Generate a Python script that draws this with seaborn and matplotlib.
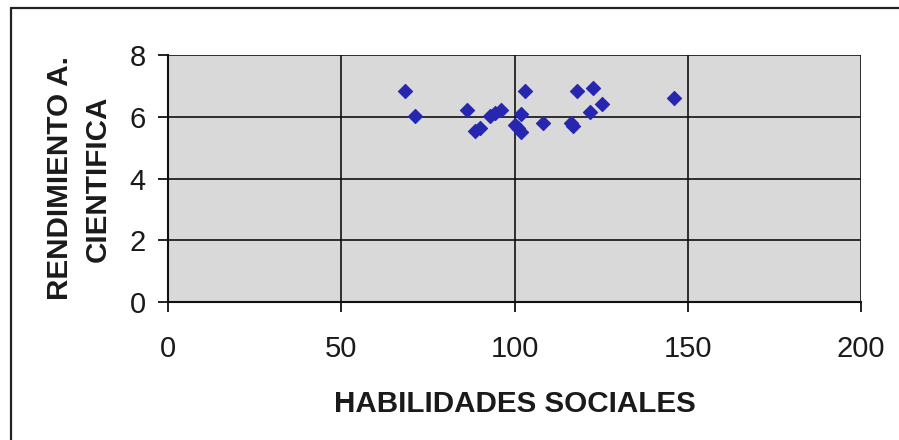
import matplotlib
matplotlib.use("Agg")
import matplotlib.pyplot as plt
from matplotlib.lines import Line2D
import seaborn as sns
import pandas as pd

# Habilidades sociales vs. rendimiento académico en ciencia
habilidades = [68.4, 71.3, 86.2, 88.6, 90.0, 92.9, 94.5, 96.0, 100.0, 101.0,
               102.0, 102.0, 103.0, 108.1, 116.2, 117.0, 117.9, 121.8, 122.7,
               125.2, 146.0]
rendimiento = [6.83, 6.03, 6.21, 5.55, 5.65, 6.02, 6.12, 6.22, 5.73, 5.62,
               6.08, 5.50, 6.82, 5.80, 5.80, 5.70, 6.84, 6.14, 6.94,
               6.40, 6.62]

x_ticks = [0, 50, 100, 150, 200]
y_ticks = [0, 2, 4, 6, 8]

df = pd.DataFrame({"HABILIDADES SOCIALES": habilidades,
                   "RENDIMIENTO A. CIENTIFICA": rendimiento})

sns.set_theme(style="white")
plt.rcParams["font.family"] = ["Liberation Sans", "DejaVu Sans"]

fig = plt.figure(figsize=(8.99, 4.40), dpi=100)
ax = fig.add_axes([168 / 899, 138 / 440, 693 / 899, 247 / 440])
ax.set_facecolor("#d9d9d9")

sns.scatterplot(data=df, x="HABILIDADES SOCIALES", y="RENDIMIENTO A. CIENTIFICA",
                marker="D", s=52, color="#2626b0", edgecolor="#2626b0",
                linewidth=0.8, ax=ax, zorder=3)

ax.set_xlim(0, 200)
ax.set_ylim(0, 8)
ax.set_xticks(x_ticks)
ax.set_yticks(y_ticks)
ax.grid(True, color="#111111", linewidth=1.2, zorder=1)
ax.set_axisbelow(True)

for side in ("top", "right"):
    ax.spines[side].set_visible(False)
for side in ("left", "bottom"):
    ax.spines[side].set_color("#111111")
    ax.spines[side].set_linewidth(1.5)
    ax.spines[side].set_zorder(2)

ax.tick_params(axis="both", which="major", direction="out", length=7,
               width=1.3, color="#111111", labelsize=21, labelcolor="#1a1a1a")
ax.tick_params(axis="x", pad=17, bottom=True)
ax.tick_params(axis="y", pad=9, left=True)

ax.set_xlabel("HABILIDADES SOCIALES", fontsize=21.3, fontweight="bold",
              color="#1a1a1a", labelpad=19)
ax.set_ylabel("RENDIMIENTO A.\nCIENTIFICA", fontsize=21.3, fontweight="bold",
              color="#1a1a1a", labelpad=13, linespacing=1.42)

# chart frame
fig.add_artist(Line2D([11 / 899, 11 / 899], [0, 1 - 8 / 440], color="#222222",
                      linewidth=1.6, transform=fig.transFigure))
fig.add_artist(Line2D([11 / 899, 1], [1 - 8 / 440, 1 - 8 / 440], color="#222222",
                      linewidth=1.6, transform=fig.transFigure))

fig.savefig("out.png", dpi=100, facecolor="white")
